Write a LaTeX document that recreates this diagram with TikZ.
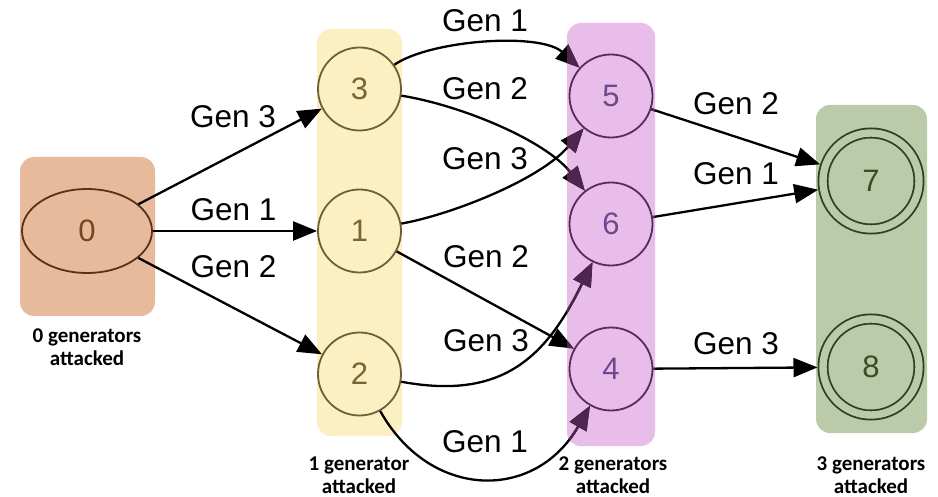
\documentclass[tikz,border=0pt]{standalone}
\usepackage{fontspec}
\setmainfont{Liberation Sans}
\newfontfamily\capfont{Carlito}
\usetikzlibrary{arrows.meta,shapes.geometric}

% group colours: fill, outline, digit
\definecolor{orfill}{HTML}{E8BA9C}
\definecolor{orline}{HTML}{5A3214}
\definecolor{ortext}{HTML}{7A4420}
\definecolor{yefill}{HTML}{FCEFC2}
\definecolor{yeline}{HTML}{6E5F37}
\definecolor{yetext}{HTML}{7A6432}
\definecolor{pufill}{HTML}{E9BDE9}
\definecolor{puline}{HTML}{5A2A5A}
\definecolor{putext}{HTML}{6B4A8C}
\definecolor{puarrow}{HTML}{4E2450}
\definecolor{grfill}{HTML}{BBCBA9}
\definecolor{grline}{HTML}{2E3E22}
\definecolor{grtext}{HTML}{3C4A28}

% all transitions, drawn in the current colour
\newcommand{\graphedges}{%
  \draw[edge] (n0) -- (n3);
  \draw[edge] (n0) -- (n1);
  \draw[edge] (n0) -- (n2);
  \draw[edge] (n3) .. controls (430,40) and (540,32) .. (n5);
  \draw[edge] (n3) .. controls (460,105) and (545,140) .. (n6);
  \draw[edge] (n1) .. controls (450,215) and (540,180) .. (n5);
  \draw[edge] (n1) -- (n4);
  \draw[edge] (n2) .. controls (500,400) and (545,360) .. (n6);
  \draw[edge] (n2) .. controls (430,500) and (535,502) .. (n4);
  \draw[edge] (n5) -- (n7);
  \draw[edge] (n6) -- (n7);
  \draw[edge] (n4) -- (n8);
}

\begin{document}
\begin{tikzpicture}[x=1pt,y=-1pt,
  region/.style={rounded corners=14pt, draw=none},
  state/.style={circle, minimum size=83pt, inner sep=0pt, line width=1.8pt,
    font=\fontsize{31}{31}\selectfont},
  accept/.style={circle, minimum size=96pt, inner sep=0pt, line width=1.8pt,
    double distance=7.4pt, outer sep=5.5pt, font=\fontsize{31}{31}\selectfont},
  gen/.style={font=\fontsize{31.5}{31.5}\selectfont, anchor=base, inner sep=0pt},
  edge/.style={line width=2.3pt, -{Triangle[length=24pt,width=19pt]}},
  caption/.style={font=\capfont\bfseries\fontsize{21}{23}\selectfont,
    align=center, anchor=base, inner sep=0pt}
]
\useasboundingbox (0,0) rectangle (938,497);
\fill[white] (0,0) rectangle (938,497);

% group backgrounds
\fill[region, orfill] (20,157) rectangle (155,316);
\fill[region, yefill] (317,29) rectangle (402,436);
\fill[region, pufill] (567,23) rectangle (655,446);
\fill[region, grfill] (816,105) rectangle (927,433);

% states
\node[ellipse, draw=orline, fill=orfill, text=ortext, line width=1.8pt,
  minimum width=130pt, minimum height=84pt, inner sep=0pt,
  font=\fontsize{31}{31}\selectfont] (n0) at (87,231) {0};
\node[state, draw=yeline, fill=yefill, text=yetext] (n3) at (359.5,89) {3};
\node[state, draw=yeline, fill=yefill, text=yetext] (n1) at (359.5,231) {1};
\node[state, draw=yeline, fill=yefill, text=yetext] (n2) at (359.5,374) {2};
\node[state, draw=puline, fill=pufill, text=putext] (n5) at (611,96) {5};
\node[state, draw=puline, fill=pufill, text=putext] (n6) at (611,224) {6};
\node[state, draw=puline, fill=pufill, text=putext] (n4) at (611,369) {4};
\node[accept, draw=grline, double=grfill, fill=grfill, text=grtext] (n7) at (871,181) {7};
\node[accept, draw=grline, double=grfill, fill=grfill, text=grtext] (n8) at (871,367) {8};

% transitions
\begin{scope}[black]
  \graphedges
\end{scope}
\begin{scope}
  \clip[rounded corners=14pt] (567,23) rectangle (655,446);
  \begin{scope}[puarrow]
    \graphedges
  \end{scope}
\end{scope}

% transition labels
\node[gen] (g03) at (233,128) {Gen 3};
\node[gen] (g01) at (233.5,221) {Gen 1};
\node[gen] (g02) at (233.5,278) {Gen 2};
\node[gen] (g35) at (485,32) {Gen 1};
\node[gen] (g36) at (485,100) {Gen 2};
\node[gen] (g15) at (485,170) {Gen 3};
\node[gen] (g14) at (486,268) {Gen 2};
\node[gen] (g26) at (486,352) {Gen 3};
\node[gen] (g24) at (485,452) {Gen 1};
\node[gen] (g57) at (736,115) {Gen 2};
\node[gen] (g67) at (736,185) {Gen 1};
\node[gen] (g48) at (736,355) {Gen 3};

% group captions
\node[caption] (c0) at (87,366) {0 generators\\attacked};
\node[caption] (c1) at (359,493) {1 generator\\attacked};
\node[caption] (c2) at (613,493) {2 generators\\attacked};
\node[caption] (c3) at (871,493) {3 generators\\attacked};
\end{tikzpicture}
\end{document}
